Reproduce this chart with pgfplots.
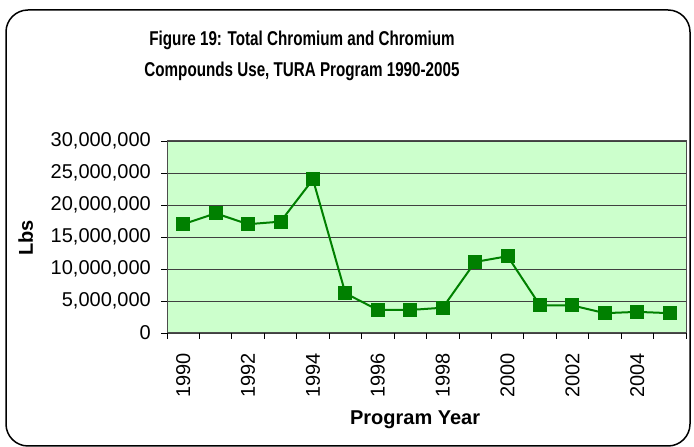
\documentclass[border=0pt]{standalone}
\usepackage{fontspec}
\setmainfont{Liberation Sans}
\usepackage{graphicx}
\usepackage{pgfplots}
\pgfplotsset{compat=1.18}
\definecolor{plotbg}{HTML}{CCFFCC}
\definecolor{dgreen}{HTML}{008000}
\begin{document}
\begin{tikzpicture}[x=1pt,y=1pt]
\path[use as bounding box] (0,0) rectangle (694,447);
\draw[line width=1.5pt, rounded corners=22pt] (6,1) rectangle (690,437);
\node[anchor=base] at (302,401) {\scalebox{0.76}[1]{\fontsize{20}{24}\selectfont\bfseries Figure 19: Total Chromium and Chromium}};
\node[anchor=base] at (302,370) {\scalebox{0.76}[1]{\fontsize{20}{24}\selectfont\bfseries Compounds Use, TURA Program 1990-2005}};
\begin{axis}[
  at={(167pt,114pt)}, anchor=south west,
  width=519pt, height=192pt, scale only axis,
  xmin=1989.5, xmax=2005.5,
  ymin=0, ymax=30000000,
  ytick={0,5000000,10000000,15000000,20000000,25000000,30000000},
  scaled y ticks=false,
  /pgf/number format/assume math mode=true,
  y tick label style={/pgf/number format/fixed, /pgf/number format/precision=0, /pgf/number format/1000 sep={,}, inner sep=0pt, font=\fontsize{20}{24}\selectfont},
  xtick={1989.5,1990.5,...,2005.5},
  xticklabels={},
  extra x ticks={1990,1992,1994,1996,1998,2000,2002,2004},
  extra x tick labels={1990,1992,1994,1996,1998,2000,2002,2004},
  extra x tick style={tick style={draw=none}, xticklabel style={rotate=90, anchor=east, inner sep=0pt, font=\fontsize{20}{24}\selectfont}},
  xticklabel shift=14pt,
  yticklabel shift=10pt,
  tick align=outside,
  major tick length=6pt,
  xtick pos=bottom, ytick pos=left,
  tick style={black, line width=0.8pt},
  ymajorgrids, xmajorgrids=false,
  grid style={draw=black!75, line width=0.8pt},
  axis background/.style={fill=plotbg},
  axis line style={draw=black!70, line width=1pt},
  ylabel={\bfseries Lbs},
  ylabel style={at={(axis description cs:-0.272,0.495)}, anchor=center, font=\fontsize{20}{24}\selectfont},
  xlabel={\bfseries Program Year},
  xlabel style={at={(axis description cs:0.478,-0.453)}, anchor=center, font=\fontsize{20}{24}\selectfont},
]
\addplot[dgreen, line width=2pt, mark=square*, mark size=6pt, mark options={fill=dgreen, draw=dgreen}] coordinates {
(1990,17000000) (1991,18700000) (1992,17000000) (1993,17400000) (1994,24000000)
(1995,6200000) (1996,3600000) (1997,3600000) (1998,3950000) (1999,11100000)
(2000,12000000) (2001,4300000) (2002,4300000) (2003,3100000) (2004,3300000) (2005,3100000)
};
\end{axis}
\end{tikzpicture}
\end{document}
